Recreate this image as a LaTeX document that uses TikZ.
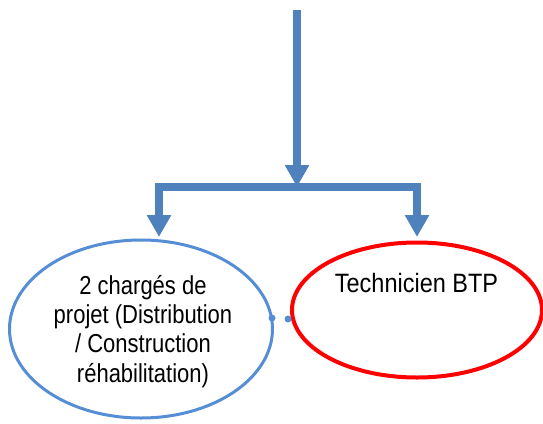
\documentclass[tikz,border=0pt]{standalone}
\usepackage{fontspec}
\setmainfont{Liberation Sans}
\usetikzlibrary{arrows.meta,shapes.geometric}
\definecolor{arrowblue}{HTML}{4F81BD}
\definecolor{ellblue}{HTML}{558ED5}
\definecolor{ellred}{HTML}{FF0000}
\begin{document}
\begin{tikzpicture}[x=1pt,y=-1pt,
  flow/.style={draw=arrowblue,line width=8pt,-{Triangle[width=23pt,length=22pt]}},
  bar/.style={draw=arrowblue,line width=8pt,line join=miter},
  bubble/.style={ellipse,inner sep=0pt,line width=#1},
  lbl/.style={inner sep=0pt},
  dotend/.style={fill=ellblue,circle,inner sep=0pt,minimum size=7pt}]
\useasboundingbox (0,0) rectangle (543,423);
\node[bubble=3pt,draw=ellblue,minimum width=263pt,minimum height=178pt] (left) at (141,329) {};
\node[bubble=4pt,draw=ellred,minimum width=250pt,minimum height=135pt] (right) at (417,310) {};
\node[lbl] (lefttext) at (143,332.5) {\scalebox{1}[1.18]{\fontsize{22}{24.8}\selectfont\begin{tabular}{@{}c@{}}2 chargés de\\projet (Distribution\\/ Construction\\réhabilitation)\end{tabular}}};
\node[lbl,anchor=base] (righttext) at (416.5,292) {\scalebox{1}[1.13]{\fontsize{23.5}{28}\selectfont Technicien BTP}};
\coordinate (top) at (297,10);
\coordinate (junction) at (297,187);
\coordinate (lt) at (159,237);
\coordinate (rt) at (417,237);
\coordinate (lb) at (155,187);
\coordinate (rb) at (421,187);
\draw[bar] (lb) -- (rb);
\draw[flow] (top) -- (junction);
\draw[flow] (159,183) -- (lt);
\draw[flow] (417,183) -- (rt);
\node[dotend] (d1) at (272,318) {};
\node[dotend] (d2) at (288,319) {};
\end{tikzpicture}
\end{document}
